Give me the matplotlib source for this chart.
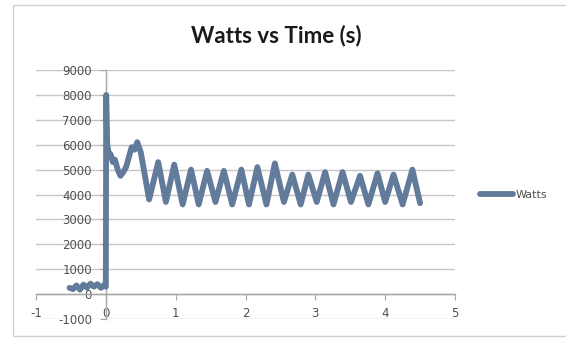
"""Watts vs time trace, Excel-style scatter with axes crossing at zero"""
import matplotlib
matplotlib.use("Agg")
import matplotlib.pyplot as plt
from matplotlib.patches import Rectangle

plt.rcParams["axes.unicode_minus"] = False

# idle readings before the load switches on
pre_time = [-0.52, -0.47, -0.42, -0.37, -0.32, -0.27, -0.22, -0.17, -0.12, -0.07, -0.02, 0.0]
pre_watts = [250, 200, 350, 180, 380, 260, 420, 300, 400, 250, 380, 300]

# start-up surge
surge_time = [0.005, 0.02, 0.04, 0.07, 0.10, 0.13, 0.17, 0.21, 0.25, 0.29, 0.33,
              0.37, 0.41, 0.45, 0.50, 0.62]
surge_watts = [8000, 6000, 5700, 5600, 5300, 5400, 5000, 4750, 4900, 5100, 5500,
               5900, 5800, 6100, 5700, 3800]

# steady cycling
cycle_time = [0.75, 0.86, 0.98, 1.10, 1.22, 1.33, 1.45, 1.57, 1.69, 1.81, 1.94, 2.05,
              2.17, 2.30, 2.42, 2.55, 2.67, 2.79, 2.90, 3.02, 3.14, 3.26, 3.39, 3.51,
              3.64, 3.76, 3.89, 4.00, 4.12, 4.25, 4.39, 4.50]
cycle_watts = [5300, 3700, 5200, 3600, 5000, 3600, 4950, 3700, 4950, 3600, 5000, 3600,
               5100, 3600, 5250, 3700, 4800, 3600, 4800, 3700, 4900, 3600, 4900, 3700,
               4750, 3600, 4850, 3700, 4800, 3600, 5000, 3650]

time_s = pre_time + surge_time + cycle_time
watts = pre_watts + surge_watts + cycle_watts

line_color = "#637b9a"
axis_color = "#a6a6a6"
text_color = "#505050"

fig = plt.figure(figsize=(5.66, 3.38), dpi=100)
fig.patches.append(Rectangle((13 / 566, 2 / 338), 1.0, 331 / 338, transform=fig.transFigure,
                             fill=False, edgecolor="#d0d0d0", linewidth=1.0))

ax = fig.add_axes([36 / 566, 19 / 338, 419 / 566, 249 / 338])
line, = ax.plot(time_s, watts, color=line_color, linewidth=4.2, solid_joinstyle="round",
                solid_capstyle="round", label="Watts", zorder=3)

ax.set_xlim(-1, 5)
ax.set_ylim(-1000, 9000)
ax.set_xticks(range(-1, 6))
ax.set_yticks(range(-1000, 9001, 1000))

for side in ("top", "right"):
    ax.spines[side].set_visible(False)
ax.spines["left"].set_position(("data", 0))
ax.spines["bottom"].set_position(("data", 0))
for side in ("left", "bottom"):
    ax.spines[side].set_color(axis_color)
    ax.spines[side].set_linewidth(1.0)

ax.grid(axis="y", color="#c6c6c6", linewidth=1.0)
ax.set_axisbelow(True)
ax.tick_params(axis="both", direction="out", length=4, color=axis_color,
               labelsize=8.5, labelcolor=text_color)
ax.tick_params(axis="y", pad=6)
ax.tick_params(axis="x", pad=5)

fig.text(276 / 566, 1 - 36 / 338, "Watts vs Time (s)", ha="center", va="center",
         fontsize=16, fontweight="bold", family=["Lato", "DejaVu Sans"], color="#1a1a1a")

fig.legend(handles=[line], loc="center left", bbox_to_anchor=(470 / 566, 1 - 195 / 338),
           frameon=False, fontsize=8, handlelength=3.0, handletextpad=0.2,
           labelcolor=text_color)

fig.savefig("out.png", dpi=100)
